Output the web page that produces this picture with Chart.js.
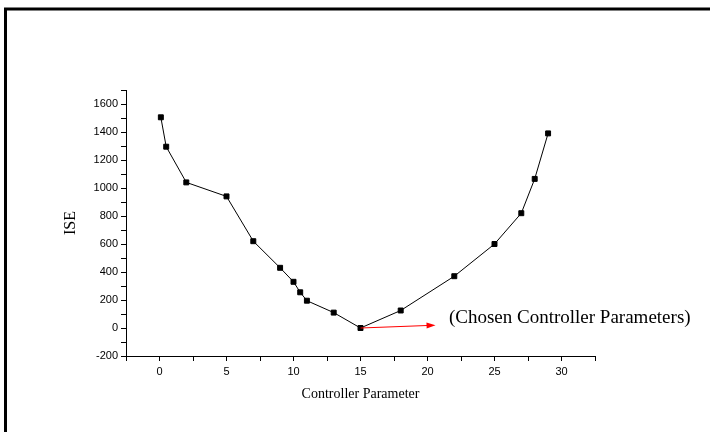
<!DOCTYPE html>
<html>
<head>
<meta charset="utf-8">
<script src="https://cdn.jsdelivr.net/npm/chart.js@4/dist/chart.umd.min.js"></script>
<style>
  html, body { margin: 0; padding: 0; background: #fff; }
  #wrap { width: 710px; height: 432px; }
</style>
</head>
<body>
<div id="wrap"><canvas id="myChart" width="710" height="432"></canvas></div>
<script>
// data
const params = [0.1, 0.5, 2, 5, 7, 9, 10, 10.5, 11, 13, 15, 18, 22, 25, 27, 28, 29];
const iseValues = [1505, 1295, 1040, 940, 620, 430, 330, 255, 195, 110, 0, 125, 370, 600, 820, 1065, 1390];
const arrowFrom = [15, 0];
const arrowTo = [20.6, 20];
const noteAt = [21.6, 71];
const noteText = '(Chosen Controller Parameters)';

const ctx = document.getElementById('myChart').getContext('2d');

// frame + red arrow + note
const extras = {
  id: 'extras',
  beforeDraw(chart) {
    const c = chart.ctx;
    c.save();
    c.fillStyle = '#fff';
    c.fillRect(0, 0, chart.width, chart.height);
    c.strokeStyle = '#000';
    c.lineWidth = 3;
    c.beginPath();
    c.moveTo(5.5, chart.height);
    c.lineTo(5.5, 9);
    c.lineTo(chart.width, 9);
    c.stroke();
    c.restore();
  },
  afterDraw(chart) {
    const c = chart.ctx;
    const xs = chart.scales.x, ys = chart.scales.y;
    const x1 = xs.getPixelForValue(arrowFrom[0]), y1 = ys.getPixelForValue(arrowFrom[1]);
    const x2 = xs.getPixelForValue(arrowTo[0]), y2 = ys.getPixelForValue(arrowTo[1]);
    const a = Math.atan2(y2 - y1, x2 - x1);
    c.save();
    c.strokeStyle = '#ff0000';
    c.fillStyle = '#ff0000';
    c.lineWidth = 1;
    c.beginPath();
    c.moveTo(x1, y1);
    c.lineTo(x2 - 8 * Math.cos(a), y2 - 8 * Math.sin(a));
    c.stroke();
    c.beginPath();
    c.moveTo(x2, y2);
    c.lineTo(x2 - 9 * Math.cos(a) + 3 * Math.sin(a), y2 - 9 * Math.sin(a) - 3 * Math.cos(a));
    c.lineTo(x2 - 9 * Math.cos(a) - 3 * Math.sin(a), y2 - 9 * Math.sin(a) + 3 * Math.cos(a));
    c.closePath();
    c.fill();
    c.fillStyle = '#000';
    c.font = '19px "Liberation Serif", "Times New Roman", serif';
    c.textBaseline = 'middle';
    c.fillText(noteText, xs.getPixelForValue(noteAt[0]), ys.getPixelForValue(noteAt[1]));
    c.restore();
  }
};

const tickFont = { family: '"Liberation Sans", Arial, sans-serif', size: 11 };
const serif = '"Liberation Serif", "Times New Roman", serif';

new Chart(ctx, {
  type: 'line',
  data: {
    labels: params,
    datasets: [{
      label: 'ISE',
      data: params.map((p, i) => ({ x: p, y: iseValues[i] })),
      borderColor: '#000',
      backgroundColor: '#000',
      borderWidth: 1,
      pointStyle: 'rect',
      pointRadius: 3.5,
      pointHoverRadius: 3.5,
      tension: 0
    }]
  },
  options: {
    responsive: false,
    animation: false,
    layout: { padding: { left: 58, top: 90, right: 115, bottom: 20 } },
    plugins: { legend: { display: false }, tooltip: { enabled: false } },
    scales: {
      x: {
        type: 'linear',
        min: -2.5,
        max: 32.5,
        afterFit(scale) { scale.height = 56; },
        border: { color: '#000', width: 1 },
        grid: { drawOnChartArea: false, drawTicks: true, tickLength: 5, color: '#000' },
        ticks: {
          stepSize: 2.5,
          color: '#000',
          font: tickFont,
          padding: 4,
          maxRotation: 0,
          autoSkip: false,
          callback: v => (v % 5 === 0 ? String(v) : '')
        },
        title: { display: true, text: 'Controller Parameter', color: '#000', font: { family: serif, size: 14 }, padding: { top: 4, bottom: 9 } }
      },
      y: {
        min: -200,
        max: 1700,
        afterFit(scale) { scale.width = 68; },
        border: { color: '#000', width: 1 },
        grid: { drawOnChartArea: false, drawTicks: true, tickLength: 5, color: '#000' },
        ticks: {
          stepSize: 100,
          color: '#000',
          font: tickFont,
          padding: 3,
          autoSkip: false,
          callback: v => (v % 200 === 0 ? String(v) : '')
        },
        title: { display: true, text: 'ISE', color: '#000', font: { family: serif, size: 16 }, padding: 3 }
      }
    }
  },
  plugins: [extras]
});
</script>
</body>
</html>
